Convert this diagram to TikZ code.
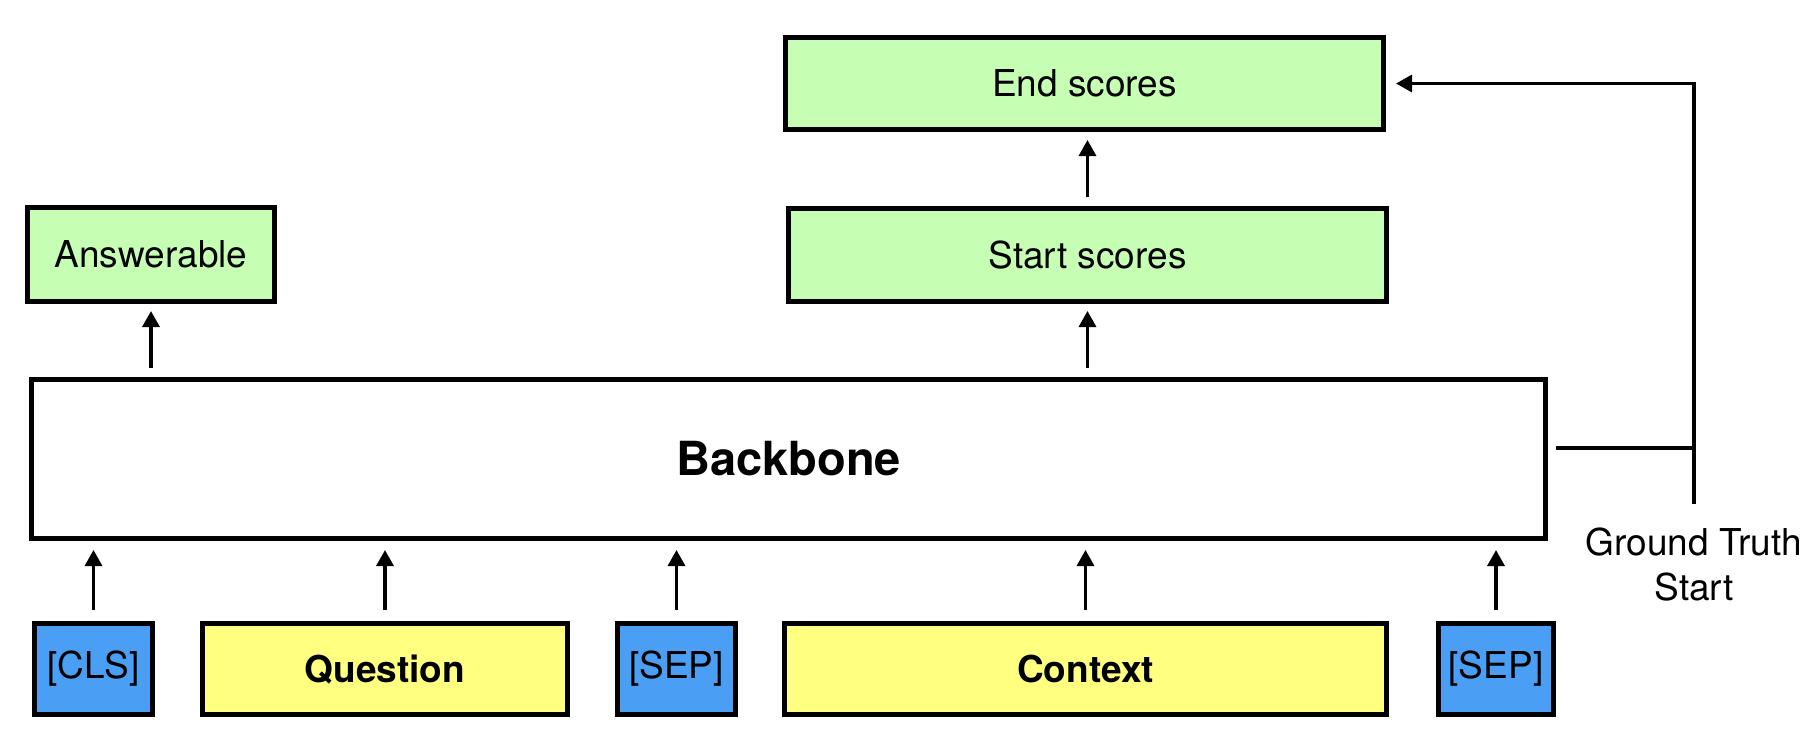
\documentclass[tikz,border=0pt]{standalone}
\usepackage{fontspec}
\setmainfont{TeX Gyre Heros}
\usetikzlibrary{arrows.meta}
\definecolor{scoregreen}{HTML}{C6FFB4}
\definecolor{textyellow}{HTML}{FFFF80}
\definecolor{tokenblue}{HTML}{4A9EF4}
\begin{document}
\begin{tikzpicture}[x=0.5pt,y=-0.5pt,
  box/.style={draw=black,line width=2.5pt,inner sep=0pt,font=\fontsize{18.5}{22.6}\selectfont},
  headbox/.style={box,fill=scoregreen},
  segbox/.style={box,fill=textyellow,font=\fontsize{18.5}{22.6}\selectfont\bfseries},
  tokbox/.style={box,fill=tokenblue},
  arr/.style={line width=1.65pt,-{Triangle[length=8pt,width=8.5pt]}},
  plain/.style={line width=1.65pt}]
\useasboundingbox (0,0) rectangle (1817,746);

% output heads
\node[headbox,minimum width=299pt,minimum height=46pt] (endsc) at (1084.5,83.5) {End scores};
\node[headbox,minimum width=299pt,minimum height=46.5pt] (startsc) at (1087.5,255) {Start scores};
\node[headbox,minimum width=123.5pt,minimum height=47pt] (ans) at (151,254.5) {Answerable};

% encoder
\node[box,fill=white,minimum width=757pt,minimum height=79.5pt,font=\fontsize{23.5}{28}\selectfont\bfseries] (bb) at (788.5,459) {Backbone};

% input tokens
\node[tokbox,minimum width=59pt,minimum height=45.5pt] (cls) at (93.5,669) {[CLS]};
\node[segbox,minimum width=182.5pt,minimum height=45.5pt] (q) at (385,669) {Question};
\node[tokbox,minimum width=59pt,minimum height=45.5pt] (sepa) at (676.5,669) {[SEP]};
\node[segbox,minimum width=301pt,minimum height=45.5pt] (ctx) at (1085.5,669) {Context};
\node[tokbox,minimum width=57.5pt,minimum height=45.5pt] (sepb) at (1496,669) {[SEP]};

% inputs into the backbone
\foreach \n in {cls,q,sepa,ctx,sepb}
  \draw[arr,shorten <=5.5pt,shorten >=4.5pt] (\n.north) -- (\n.north |- bb.south);

% backbone to heads
\draw[arr,shorten <=4.5pt,shorten >=3.5pt] (ans.south |- bb.north) -- (ans.south);
\draw[arr,shorten <=4.5pt,shorten >=3.5pt] (startsc.south |- bb.north) -- (startsc.south);
\draw[arr,shorten <=4.5pt,shorten >=4pt] (startsc.north) -- (startsc.north |- endsc.south);

% ground truth start feeding the end head
\node[font=\fontsize{18.5}{22.6}\selectfont,align=center,inner sep=0pt] (gt) at (1694,564.5) {Ground Truth\\Start};
\coordinate (gttop) at (1694,504);
\coordinate (corner) at (1694,83.5);
\coordinate (join) at (1694,448);
\draw[plain,shorten <=4pt] (bb.east |- join) -- (join);
\draw[arr,shorten >=5pt] (gttop) -- (corner) -- (endsc.east |- corner);
\end{tikzpicture}
\end{document}
